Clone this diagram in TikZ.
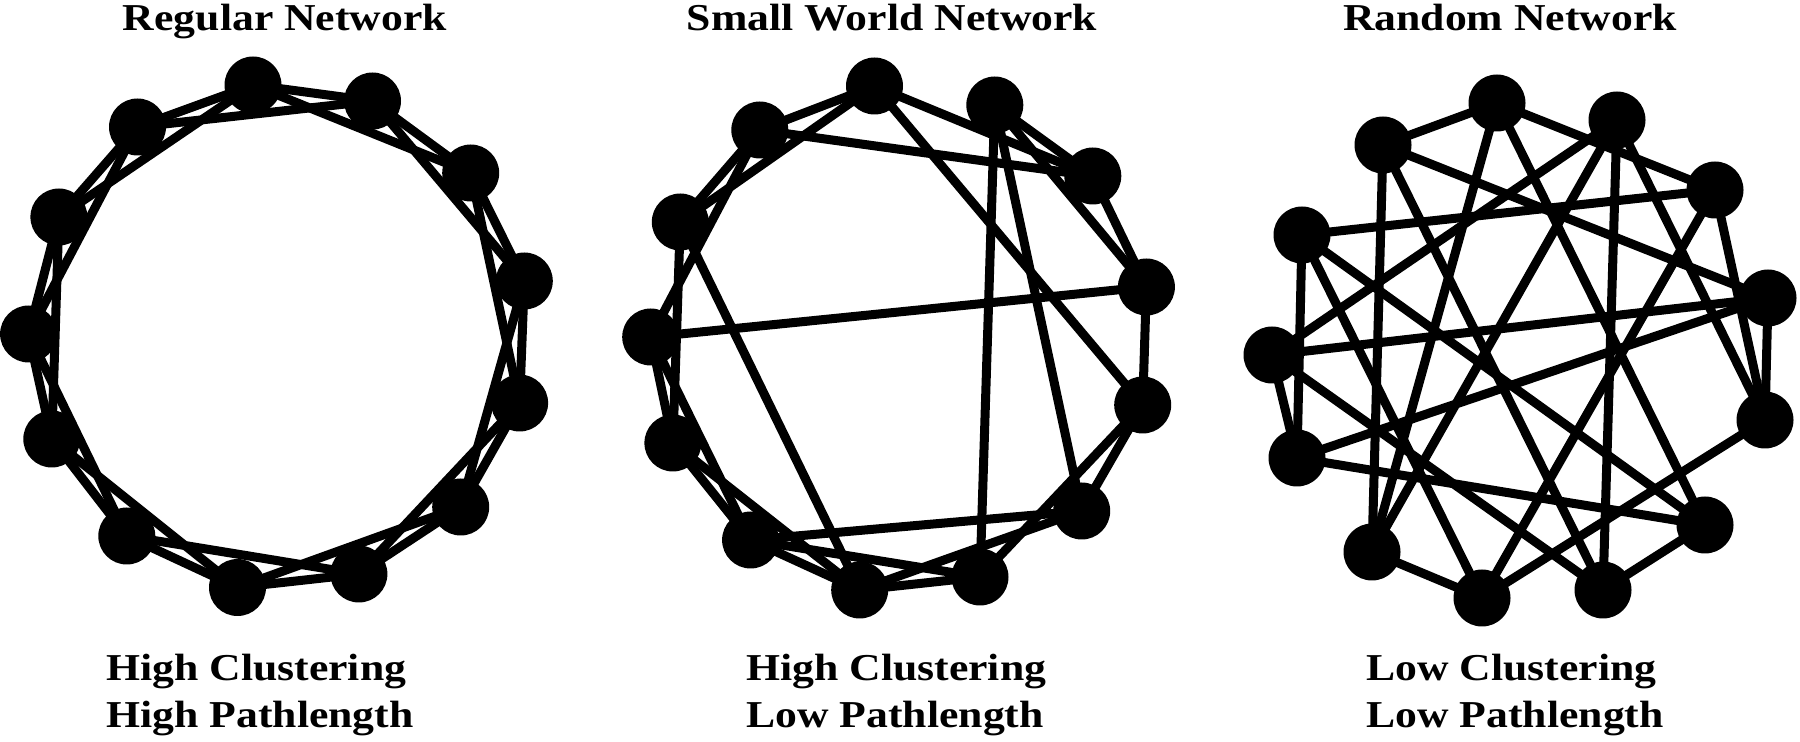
\documentclass[tikz,border=0pt]{standalone}
\usepackage{fontspec}
\newfontfamily\labfont{Liberation Serif}[FakeStretch=1.15]
\begin{document}
\begin{tikzpicture}[x=0.5pt,y=-0.5pt,
  nd/.style={circle,fill=black,minimum size=28.5pt,inner sep=0pt},
  ed/.style={line width=4.5pt,black},
  lbl/.style={font=\labfont\bfseries\fontsize{19}{23}\selectfont,inner sep=0pt}]
\useasboundingbox (0,0) rectangle (1800,742);
\fill[white] (0,0) rectangle (1800,742);

% ---------- Regular network ----------
\foreach \n/\x/\y in {1/253/85,2/372.5/101,3/470.7/173,4/524.3/281,5/519.6/403,
  6/460.7/507,7/358.9/574,8/237.5/587.5,9/126.8/536,10/51.8/439,11/28.6/334,
  12/58.9/217,13/137.5/127}
  \node[nd] (g\n) at (\x,\y) {};
\foreach \i in {1,...,13}{
  \pgfmathtruncatemacro{\j}{mod(\i,13)+1}
  \pgfmathtruncatemacro{\k}{mod(\i+1,13)+1}
  \draw[ed] (g\i.center) -- (g\j.center);
  \draw[ed] (g\i.center) -- (g\k.center);
}

% ---------- Small world network ----------
\foreach \n/\x/\y in {a/874.5/86,b/994.8/105,c/1092.8/176,d/1146.4/287,e/1142.7/405,
  f/1081.7/511,g/980/577,h/859.7/590,i/750.6/540,j/672.9/443,k/650.7/337,
  l/680.3/222,m/759.8/130}
  \node[nd] (s\n) at (\x,\y) {};
\foreach \u/\v in {a/m,a/l,a/c,a/e,b/c,b/d,b/g,b/f,c/d,m/c,d/e,d/k,e/f,e/g,
  f/h,f/i,g/h,g/i,h/i,h/j,h/l,i/j,i/k,j/k,j/l,k/m,l/m}
  \draw[ed] (s\u.center) -- (s\v.center);

% ---------- Random network ----------
\foreach \n/\x/\y in {a/1383/145,b/1497/103,c/1617/120,d/1715/190,e/1768/298,
  f/1765/420,g/1705/525,h/1603/590,i/1482/598,j/1372/552,k/1297/458,
  l/1272/355,m/1302/235}
  \node[nd] (r\n) at (\x,\y) {};
\foreach \u/\v in {a/b,a/e,a/j,a/h,b/d,b/j,b/g,c/l,c/j,c/h,c/f,d/m,d/i,d/f,
  e/f,e/l,e/k,f/i,g/h,g/m,g/k,h/l,i/j,i/m,k/l,k/m}
  \draw[ed] (r\u.center) -- (r\v.center);

% ---------- Labels ----------
\node[lbl,anchor=base] (t1) at (285,31) {Regular Network};
\node[lbl,anchor=base] (t2) at (892,31) {Small World Network};
\node[lbl,anchor=base] (t3) at (1510,31) {Random Network};

\node[lbl,anchor=base west] (c1) at (106,681) {High Clustering};
\node[lbl,anchor=base west] (p1) at (106,727) {High Pathlength};
\node[lbl,anchor=base west] (c2) at (746,681) {High Clustering};
\node[lbl,anchor=base west] (p2) at (746,727) {Low Pathlength};
\node[lbl,anchor=base west] (c3) at (1366,681) {Low Clustering};
\node[lbl,anchor=base west] (p3) at (1366,727) {Low Pathlength};
\end{tikzpicture}
\end{document}
